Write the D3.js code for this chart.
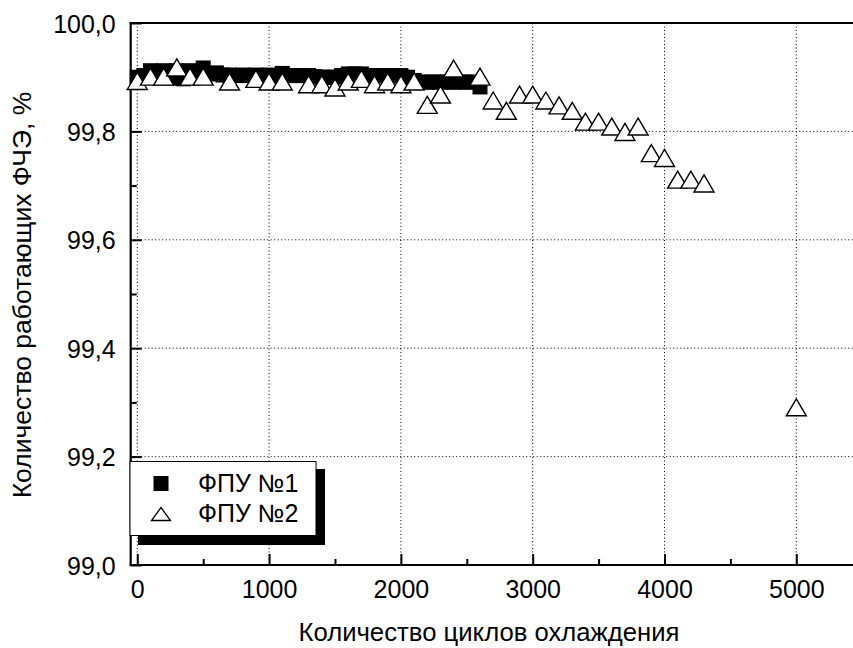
<!DOCTYPE html>
<html><head><meta charset="utf-8">
<script src="https://cdn.jsdelivr.net/npm/d3@7/dist/d3.min.js"></script>
<style>body{margin:0;background:#fff;} svg{display:block;} text{font-family:"Liberation Sans",Arial,sans-serif;fill:#000;}</style>
</head><body><svg id="c" width="853" height="648"></svg>
<script>
// Series 1: ФПУ №1 (filled squares)
const s1Cycles = [0,50,100,150,200,250,300,350,400,450,500,550,600,650,700,750,800,850,900,950,1000,1050,1100,1150,1200,1250,1300,1350,1400,1450,1500,1550,1600,1650,1700,1750,1800,1850,1900,1950,2000,2050,2100,2150,2200,2250,2300,2350,2400,2450,2500,2550,2600];
const s1Values = [99.900,99.903,99.912,99.905,99.912,99.898,99.912,99.897,99.912,99.905,99.917,99.906,99.908,99.904,99.904,99.903,99.904,99.903,99.904,99.903,99.904,99.903,99.907,99.903,99.903,99.903,99.903,99.901,99.900,99.900,99.900,99.903,99.906,99.906,99.906,99.903,99.903,99.903,99.903,99.903,99.903,99.900,99.894,99.891,99.891,99.891,99.891,99.891,99.891,99.891,99.891,99.891,99.882];
// Series 2: ФПУ №2 (open triangles)
const s2Cycles = [0,100,200,300,400,500,700,900,1000,1100,1300,1400,1500,1600,1700,1800,1900,2000,2100,2200,2300,2400,2600,2700,2800,2900,3000,3100,3200,3300,3400,3500,3600,3700,3800,3900,4000,4100,4200,4300,5000];
const s2Values = [99.893,99.901,99.901,99.918,99.901,99.901,99.892,99.897,99.892,99.892,99.887,99.887,99.881,99.892,99.897,99.887,99.892,99.887,99.892,99.849,99.868,99.916,99.901,99.857,99.838,99.868,99.868,99.857,99.848,99.838,99.818,99.818,99.809,99.799,99.809,99.760,99.751,99.711,99.711,99.704,99.291];
const xTicks = [0,1000,2000,3000,4000,5000];
const xMinor = [500,1500,2500,3500,4500];
const yTicks = [99.0,99.2,99.4,99.6,99.8,100.0];
const yMinor = [99.1,99.3,99.5,99.7,99.9];
const legendLabels = ["ФПУ №1","ФПУ №2"];
const xTitle = "Количество циклов охлаждения";
const yTitle = "Количество работающих ФЧЭ, %";

const svg = d3.select("#c");
const L = 130.7, T = 23, B = 565, R = 862.2;
const x = d3.scaleLinear().domain([-50, 5500]).range([L, R]);
const y = d3.scaleLinear().domain([99.0, 100.0]).range([B, T]);
const fmt = d => d.toFixed(1).replace(".", ",");

// grid
const g = svg.append("g");
g.selectAll(".gx").data(xTicks).enter().append("line")
  .attr("x1", d => x(d)).attr("x2", d => x(d)).attr("y1", T).attr("y2", B)
  .attr("stroke", "#000").attr("stroke-width", 1).attr("stroke-dasharray", "1,2.5");
g.selectAll(".gy").data(yTicks.slice(1, -1)).enter().append("line")
  .attr("x1", L).attr("x2", R).attr("y1", d => y(d)).attr("y2", d => y(d))
  .attr("stroke", "#000").attr("stroke-width", 1).attr("stroke-dasharray", "1,2.5");

// axes using d3 axes with inward ticks
const xAxis = svg.append("g").attr("transform", `translate(0,${B})`)
  .call(d3.axisBottom(x).tickValues(xTicks).tickSize(-11).tickFormat(d3.format("d")).tickPadding(0));
xAxis.select(".domain").remove();
xAxis.selectAll(".tick line").attr("stroke-width", 2);
xAxis.selectAll(".tick text").attr("font-size", 25).attr("y", 33).attr("dy", 0).style("font-family", "Liberation Sans, Arial, sans-serif");
const xAxisMinor = svg.append("g").attr("transform", `translate(0,${B})`)
  .call(d3.axisBottom(x).tickValues(xMinor).tickSize(-6).tickFormat(""));
xAxisMinor.select(".domain").remove();
xAxisMinor.selectAll(".tick line").attr("stroke-width", 2);

const yAxis = svg.append("g").attr("transform", `translate(${L},0)`)
  .call(d3.axisLeft(y).tickValues(yTicks).tickSize(-11).tickFormat(fmt).tickPadding(0));
yAxis.select(".domain").remove();
yAxis.selectAll(".tick line").attr("stroke-width", 2);
yAxis.selectAll(".tick text").attr("font-size", 25).attr("x", -15).attr("dy", "0.36em").style("font-family", "Liberation Sans, Arial, sans-serif");
const yAxisMinor = svg.append("g").attr("transform", `translate(${L},0)`)
  .call(d3.axisLeft(y).tickValues(yMinor).tickSize(-6).tickFormat(""));
yAxisMinor.select(".domain").remove();
yAxisMinor.selectAll(".tick line").attr("stroke-width", 2);

// frame lines
svg.append("line").attr("x1", L).attr("x2", L).attr("y1", T - 1).attr("y2", B + 1).attr("stroke", "#000").attr("stroke-width", 2.2);
svg.append("line").attr("x1", L - 1).attr("x2", R).attr("y1", B).attr("y2", B).attr("stroke", "#000").attr("stroke-width", 2.2);
svg.append("line").attr("x1", L - 1).attr("x2", R).attr("y1", T).attr("y2", T).attr("stroke", "#000").attr("stroke-width", 2.2);

// data
const S = 15;
svg.append("g").selectAll("rect").data(s1Cycles).enter().append("rect")
  .attr("x", (d) => x(d) - S / 2).attr("y", (d, i) => y(s1Values[i]) - S / 2)
  .attr("width", S).attr("height", S).attr("fill", "#000");
const tri = (w, h) => `M0,${-h/2}L${w/2},${h/2}L${-w/2},${h/2}Z`;
svg.append("g").selectAll("path").data(s2Cycles).enter().append("path")
  .attr("transform", (d, i) => `translate(${x(d)},${y(s2Values[i])})`)
  .attr("d", tri(20, 17)).attr("fill", "#fff").attr("stroke", "#000").attr("stroke-width", 1.4);

// legend
const lg = svg.append("g");
lg.append("rect").attr("x", 138).attr("y", 469).attr("width", 187).attr("height", 76).attr("fill", "#000");
lg.append("rect").attr("x", 130).attr("y", 461.5).attr("width", 186).attr("height", 74).attr("fill", "#fff").attr("stroke", "#000").attr("stroke-width", 1);
lg.append("rect").attr("x", 153.5).attr("y", 476).attr("width", 15).attr("height", 15).attr("fill", "#000");
lg.append("path").attr("transform", "translate(161,514)").attr("d", tri(19, 13)).attr("fill", "#fff").attr("stroke", "#000").attr("stroke-width", 1.3);
lg.selectAll("text.l").data(legendLabels).enter().append("text")
  .attr("x", 198).attr("y", (d, i) => 492 + i * 30).attr("font-size", 25).text(d => d);

// titles
svg.append("text").attr("x", 489).attr("y", 641).attr("text-anchor", "middle").attr("font-size", 25.7).text(xTitle);
svg.append("text").attr("transform", "translate(31,295) rotate(-90)").attr("text-anchor", "middle").attr("font-size", 26.5).text(yTitle);
</script></body></html>
